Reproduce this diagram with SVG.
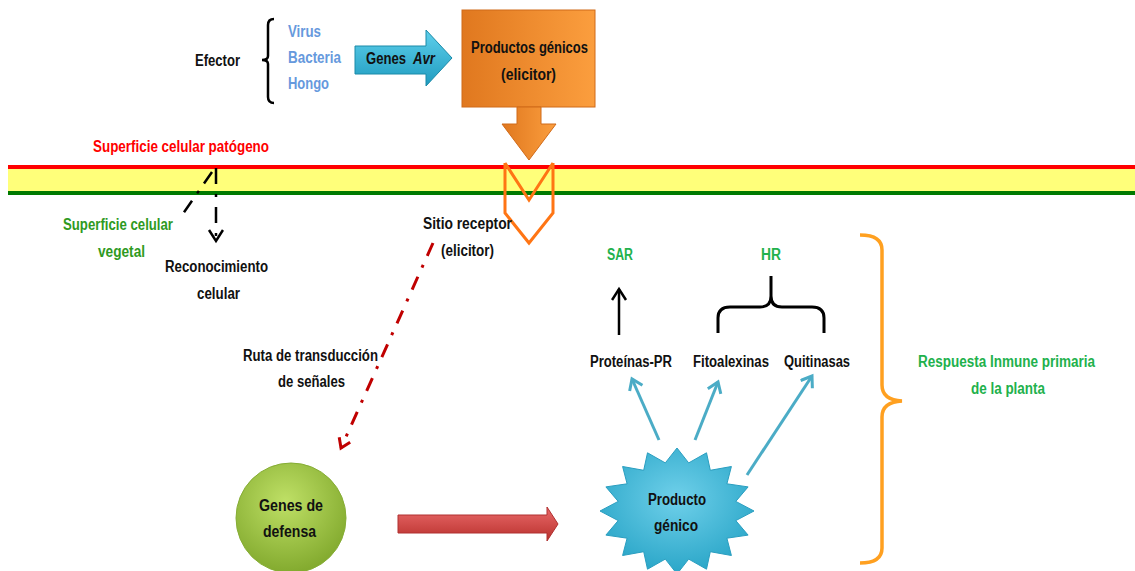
<svg xmlns="http://www.w3.org/2000/svg" width="1135" height="571" viewBox="0 0 1135 571">
<defs>
<style>
text{font-family:"Liberation Sans",Arial,sans-serif;font-weight:bold;font-size:16px;fill:#111}
.blue{fill:#6699dd}
.red{fill:#ff0000}
.dg{fill:#2f9a1f}
.lg{fill:#22b14c}
.bl{stroke:#4bacc6;stroke-width:3;fill:none}
</style>
<linearGradient id="gOr" x1="0" y1="0" x2="1" y2="0"><stop offset="0" stop-color="#e0781f"/><stop offset="1" stop-color="#fb9e3e"/></linearGradient>
<linearGradient id="gCy" x1="0" y1="0" x2="0" y2="1"><stop offset="0" stop-color="#5fd0ec"/><stop offset="1" stop-color="#1f9bbf"/></linearGradient>
<linearGradient id="gRd" x1="0" y1="0" x2="0" y2="1"><stop offset="0" stop-color="#ea6a6a"/><stop offset="1" stop-color="#b8302c"/></linearGradient>
<radialGradient id="gGr" cx="0.45" cy="0.35" r="0.7"><stop offset="0" stop-color="#bfe066"/><stop offset="1" stop-color="#7ea62a"/></radialGradient>
<radialGradient id="gSt" cx="0.5" cy="0.4" r="0.6"><stop offset="0" stop-color="#6fd0ea"/><stop offset="1" stop-color="#2aa6c8"/></radialGradient>
<marker id="mBk" markerUnits="userSpaceOnUse" markerWidth="18" markerHeight="18" refX="13" refY="8" orient="auto"><path d="M2,1 L13,8 L2,15" fill="none" stroke="#000" stroke-width="2.5"/></marker>
<marker id="mRd" markerUnits="userSpaceOnUse" markerWidth="16" markerHeight="16" refX="11" refY="7" orient="auto"><path d="M2,1 L11,7 L2,13" fill="none" stroke="#c00000" stroke-width="3"/></marker>
<marker id="mBl" markerUnits="userSpaceOnUse" markerWidth="18" markerHeight="18" refX="12" refY="8" orient="auto"><path d="M2,1 L12,8 L2,15" fill="none" stroke="#4bacc6" stroke-width="3"/></marker>
</defs>
<rect width="1135" height="571" fill="#fff"/>

<g id="membrane">
<rect x="8" y="165" width="1127" height="4" fill="#ff0000"/>
<rect x="8" y="169" width="1127" height="22" fill="#ffff7a"/>
<rect x="8" y="191" width="1127" height="4" fill="#007a00"/>
</g>

<g id="efector">
<text x="195" y="66" textLength="45" lengthAdjust="spacingAndGlyphs">Efector</text>
<path d="M274,19 Q268,19 268,25 L268,56 Q268,60 262,60 Q268,60 268,64 L268,97 Q268,103 274,103" fill="none" stroke="#000" stroke-width="2.5"/>
<text class="blue" x="288" y="37" textLength="33" lengthAdjust="spacingAndGlyphs">Virus</text>
<text class="blue" x="288" y="63" textLength="53" lengthAdjust="spacingAndGlyphs">Bacteria</text>
<text class="blue" x="288" y="89" textLength="41" lengthAdjust="spacingAndGlyphs">Hongo</text>
</g>

<g id="genes-avr">
<path d="M355,46 L426,46 L426,30 L452,58 L426,86 L426,74 L355,74 Z" fill="url(#gCy)" stroke="#1a8aa8" stroke-width="1"/>
<text x="366" y="64" textLength="40" lengthAdjust="spacingAndGlyphs">Genes</text>
<text x="413" y="64" textLength="22" lengthAdjust="spacingAndGlyphs" font-style="italic">Avr</text>
</g>

<g id="productos-genicos">
<rect x="462" y="10" width="133" height="97" fill="url(#gOr)" stroke="#d06a18" stroke-width="1"/>
<path d="M517,107 L541,107 L541,124 L556,124 L529,160 L502,124 L517,124 Z" fill="url(#gOr)" stroke="#d06a18" stroke-width="1"/>
<text x="471" y="53" textLength="117" lengthAdjust="spacingAndGlyphs">Productos génicos</text>
<text x="501" y="80" textLength="55" lengthAdjust="spacingAndGlyphs">(elicitor)</text>
</g>

<g id="receptor">
<path d="M505,163 L529,200 L553,163 M505,163 L505,213 L529,243 L553,213 L553,163" fill="none" stroke="#ff7514" stroke-width="3" stroke-linejoin="miter"/>
<text x="423" y="229" textLength="89" lengthAdjust="spacingAndGlyphs">Sitio receptor</text>
<text x="441" y="256" textLength="53" lengthAdjust="spacingAndGlyphs">(elicitor)</text>
</g>

<g id="labels-surface">
<text class="red" x="93" y="152" textLength="176" lengthAdjust="spacingAndGlyphs">Superficie celular  patógeno</text>
<text class="dg" x="63" y="230" textLength="110" lengthAdjust="spacingAndGlyphs">Superficie celular</text>
<text class="dg" x="98" y="257" textLength="47" lengthAdjust="spacingAndGlyphs">vegetal</text>
<text x="165" y="272" textLength="103" lengthAdjust="spacingAndGlyphs">Reconocimiento</text>
<text x="197" y="299" textLength="43" lengthAdjust="spacingAndGlyphs">celular</text>
<text x="243" y="361" textLength="135" lengthAdjust="spacingAndGlyphs">Ruta de transducción</text>
<text x="278" y="387" textLength="67" lengthAdjust="spacingAndGlyphs">de señales</text>
</g>

<g id="genes-defensa">
<circle cx="291" cy="518" r="55" fill="url(#gGr)" stroke="#86ad35" stroke-width="1"/>
<text x="259" y="511" textLength="64" lengthAdjust="spacingAndGlyphs">Genes de</text>
<text x="263" y="537" textLength="53" lengthAdjust="spacingAndGlyphs">defensa</text>
</g>

<g id="producto-genico">
<polygon points="677,448 688.7,462.9 706.5,452.8 710.3,470.3 731.4,466.5 726.9,483.8 748.1,486.9 735.8,501.4 754,511 735.8,520.6 748.1,535.1 726.9,538.2 731.4,555.5 710.3,551.7 706.5,569.2 688.7,559.1 677,574 665.3,559.1 647.5,569.2 643.7,551.7 622.6,555.5 627.1,538.2 605.9,535.1 618.2,520.6 600,511 618.2,501.4 605.9,486.9 627.1,483.8 622.6,466.5 643.7,470.3 647.5,452.8 665.3,462.9" fill="url(#gSt)" stroke="#2a9ec0" stroke-width="1"/>
<text x="648" y="505" textLength="58" lengthAdjust="spacingAndGlyphs">Producto</text>
<text x="654" y="531" textLength="44" lengthAdjust="spacingAndGlyphs">génico</text>
</g>

<g id="responses">
<text class="lg" x="607" y="260" textLength="26" lengthAdjust="spacingAndGlyphs">SAR</text>
<text class="lg" x="761" y="260" textLength="20" lengthAdjust="spacingAndGlyphs">HR</text>
<text x="590" y="367" textLength="82" lengthAdjust="spacingAndGlyphs">Proteínas-PR</text>
<text x="693" y="367" textLength="76" lengthAdjust="spacingAndGlyphs">Fitoalexinas</text>
<text x="784" y="367" textLength="66" lengthAdjust="spacingAndGlyphs">Quitinasas</text>
<path d="M718,333 L718,318 Q718,307 730,307 L760,307 Q771,307 771,296 L771,276 M771,296 Q771,307 782,307 L812,307 Q824,307 824,318 L824,333" fill="none" stroke="#000" stroke-width="3"/>
</g>

<g id="respuesta-inmune">
<path d="M860,235 Q882,235 882,250 L882,385 Q882,400 902,401 Q882,402 882,417 L882,548 Q882,563 860,563" fill="none" stroke="#ffa020" stroke-width="3.5"/>
<text class="lg" x="918" y="367" textLength="177" lengthAdjust="spacingAndGlyphs">Respuesta Inmune  primaria</text>
<text class="lg" x="971" y="394" textLength="74" lengthAdjust="spacingAndGlyphs">de la planta</text>
</g>

<g id="connectors">
<line x1="216" y1="168" x2="216" y2="241" stroke="#000" stroke-width="2.5" stroke-dasharray="16,10,3,10" marker-end="url(#mBk)"/>
<line x1="212" y1="172" x2="180" y2="218" stroke="#000" stroke-width="2.5" stroke-dasharray="14,9,3,9"/>
<line x1="433" y1="243" x2="341" y2="448" stroke="#c00000" stroke-width="3" stroke-dasharray="14,10,3,10" marker-end="url(#mRd)"/>
<path d="M398,515 L547,515 L547,507 L558,524 L547,541 L547,533 L398,533 Z" fill="url(#gRd)" stroke="#b03030" stroke-width="1"/>
<line x1="619" y1="335" x2="619" y2="289" stroke="#000" stroke-width="2.5" marker-end="url(#mBk)"/>
<line class="bl" x1="659" y1="440" x2="632" y2="379" marker-end="url(#mBl)"/>
<line class="bl" x1="695" y1="440" x2="718" y2="382" marker-end="url(#mBl)"/>
<line class="bl" x1="747" y1="475" x2="812" y2="376" marker-end="url(#mBl)"/>
</g>
</svg>
